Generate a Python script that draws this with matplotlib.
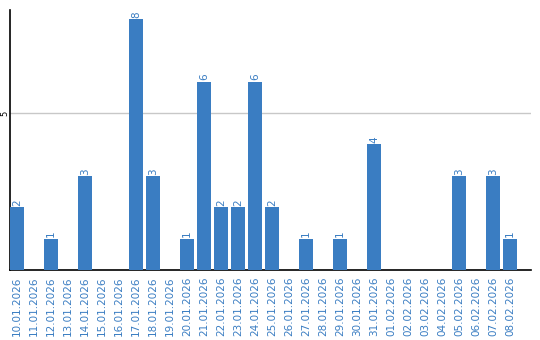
import matplotlib
matplotlib.use("Agg")
import matplotlib.pyplot as plt

dates = ["10.01.2026", "11.01.2026", "12.01.2026", "13.01.2026", "14.01.2026",
         "15.01.2026", "16.01.2026", "17.01.2026", "18.01.2026", "19.01.2026",
         "20.01.2026", "21.01.2026", "22.01.2026", "23.01.2026", "24.01.2026",
         "25.01.2026", "26.01.2026", "27.01.2026", "28.01.2026", "29.01.2026",
         "30.01.2026", "31.01.2026", "01.02.2026", "02.02.2026", "03.02.2026",
         "04.02.2026", "05.02.2026", "06.02.2026", "07.02.2026", "08.02.2026"]
counts = [2, 0, 1, 0, 3, 0, 0, 8, 3, 0, 1, 6, 2, 2, 6, 2, 0, 1, 0, 1,
          0, 4, 0, 0, 0, 0, 3, 0, 3, 1]

blue = "#3a7dc2"

fig = plt.figure(figsize=(5.4, 3.4), dpi=100)
ax = fig.add_axes([10/540, 70/340, 521/540, 260/340])

x = list(range(len(dates)))
w = 14/17
ax.bar(x, counts, width=w, align="edge", color=blue, zorder=3)
for xi, c in zip(x, counts):
    if c > 0:
        ax.text(xi + w/2, c + 0.04, str(c), rotation=90, ha="center", va="bottom",
                color=blue, fontsize=7.5, zorder=4)

ax.set_xlim(0, 521/17)
ax.set_ylim(0, 260/31.4)
ax.set_xticks([xi + w/2 for xi in x])
ax.set_xticklabels(dates, rotation=90, color=blue, fontsize=7.5)
ax.set_yticks([5])
ax.set_yticklabels(["5"], rotation=90, fontsize=6, va="center")
ax.tick_params(axis="both", length=0)
ax.tick_params(axis="y", pad=0.5)
ax.tick_params(axis="x", pad=5)
ax.grid(axis="y", color="#c8c8c8", linewidth=1, zorder=0)
for s in ["top", "right"]:
    ax.spines[s].set_visible(False)
ax.spines["left"].set_color("black")
ax.spines["bottom"].set_color("black")
ax.spines["left"].set_linewidth(1.2)
ax.spines["bottom"].set_linewidth(1.2)

fig.savefig("out.png", dpi=100)
